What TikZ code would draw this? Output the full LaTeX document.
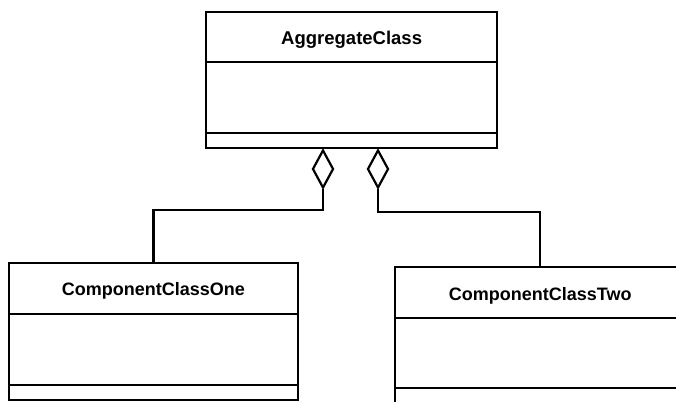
\documentclass[tikz,border=0pt]{standalone}
\usepackage{fontspec}
\setmainfont{Liberation Sans}
\usetikzlibrary{shapes.geometric,calc}
\tikzset{
  classbox/.style={draw, line width=2.3pt, rectangle, inner sep=0pt, anchor=north west},
  divider/.style={line width=2.3pt},
  classname/.style={font=\fontsize{18.5}{22}\selectfont\bfseries, inner sep=0pt},
  compname/.style={font=\fontsize{18}{22}\selectfont\bfseries, inner sep=0pt},
  aggdiamond/.style={draw, diamond, line width=2.2pt, inner sep=0pt, minimum width=21pt, minimum height=38pt, fill=white},
  link/.style={line width=2.2pt},
}
\begin{document}
\begin{tikzpicture}[x=1pt,y=-1pt]
\useasboundingbox (0,0) rectangle (676,401);
\clip (0,0) rectangle (676,401);
% aggregate class
\node[classbox, minimum width=291pt, minimum height=136pt] (agg) at (205,11) {};
\draw[divider] ($(agg.north west)+(0,51)$) -- ($(agg.north east)+(0,51)$);
\draw[divider] ($(agg.north west)+(0,122)$) -- ($(agg.north east)+(0,122)$);
\node[classname] (aggname) at ($(agg.north)+(0,28.5)$) {AggregateClass};
% component one
\node[classbox, minimum width=289.5pt, minimum height=137pt] (c1) at (7.5,262) {};
\draw[divider] ($(c1.north west)+(0,52)$) -- ($(c1.north east)+(0,52)$);
\draw[divider] ($(c1.north west)+(0,123)$) -- ($(c1.north east)+(0,123)$);
\node[compname] (c1name) at ($(c1.north)+(0,29)$) {ComponentClassOne};
% component two
\node[classbox, minimum width=290pt, minimum height=137pt] (c2) at (394,266) {};
\draw[divider] ($(c2.north west)+(0,52)$) -- ($(c2.north east)+(0,52)$);
\draw[divider] ($(c2.north west)+(0,122)$) -- ($(c2.north east)+(0,122)$);
\node[compname] (c2name) at ($(c2.north)+(0,30)$) {ComponentClassTwo};
% aggregation diamonds
\node[aggdiamond] (d1) at (323,169) {};
\node[aggdiamond] (d2) at (378,169) {};
\draw[link] (d1.south) -- ++(0,21) -| (c1.north);
\draw[link] (d2.south) -- ++(0,23) -| (c2.north);
\end{tikzpicture}
\end{document}
